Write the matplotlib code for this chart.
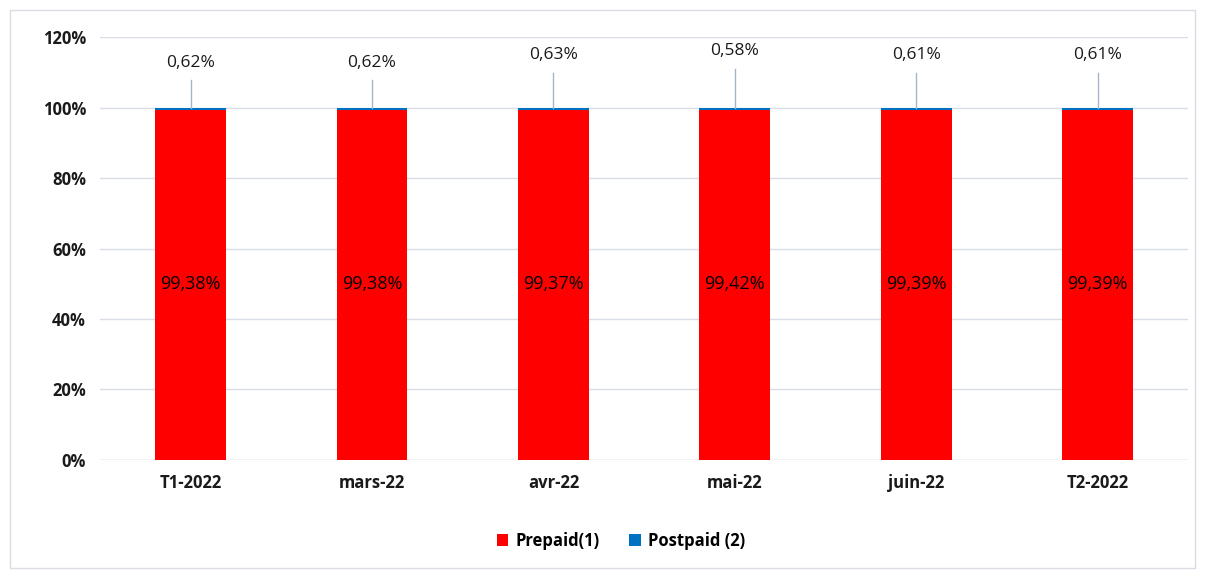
import matplotlib

matplotlib.use("Agg")
import matplotlib.pyplot as plt
from matplotlib.patches import Patch, Rectangle

plt.rcParams["font.family"] = ["Open Sans", "DejaVu Sans"]

CATEGORIES = ["T1-2022", "mars-22", "avr-22", "mai-22", "juin-22", "T2-2022"]
PREPAID = [99.38, 99.38, 99.37, 99.42, 99.39, 99.39]
POSTPAID = [0.62, 0.62, 0.63, 0.58, 0.61, 0.61]
# label heights (in %) of the postpaid callouts, as placed in the original
LABEL_Y = [112.8, 112.8, 114.8, 116.0, 114.8, 114.8]
YTICKS = [0, 20, 40, 60, 80, 100, 120]

RED = "#ff0000"
BLUE = "#0070c0"
GRID = "#d9dde6"
TEXT = "#1a1a1a"


def fmt(v):
    return f"{v:.2f}".replace(".", ",") + "%"


fig = plt.figure(figsize=(12.1, 5.72), dpi=100)
ax = fig.add_axes([0.0826, 0.196, 0.8994, 0.739])

x = list(range(len(CATEGORIES)))
w = 0.39
ax.bar(x, PREPAID, width=w, color=RED, zorder=3)
ax.bar(x, POSTPAID, width=w, bottom=PREPAID, color=BLUE, zorder=3)

for i in x:
    ax.text(i, 50, fmt(PREPAID[i]), ha="center", va="center",
            fontsize=13, color="black", zorder=4)
    ax.text(i, LABEL_Y[i], fmt(POSTPAID[i]), ha="center", va="center",
            fontsize=12.5, color=TEXT, zorder=4)
    ax.plot([i, i], [LABEL_Y[i] - 5.0, 100], color="#a6b4c8",
            linewidth=1, zorder=4)

ax.set_xlim(-0.5, len(CATEGORIES) - 0.5)
ax.set_ylim(0, 120)
ax.set_yticks(YTICKS)
ax.set_yticklabels([f"{t}%" for t in YTICKS])
ax.set_xticks(x)
ax.set_xticklabels(CATEGORIES)
ax.tick_params(length=0, labelsize=12, colors=TEXT, pad=10)
for lbl in ax.get_xticklabels() + ax.get_yticklabels():
    lbl.set_fontweight("bold")
ax.grid(axis="y", color=GRID, linewidth=1, zorder=0)
ax.set_axisbelow(True)
for s in ax.spines.values():
    s.set_visible(False)
ax.axhline(0, color=GRID, linewidth=1, zorder=1)

fig.legend(
    handles=[Patch(facecolor=RED, label="Prepaid(1)"),
             Patch(facecolor=BLUE, label="Postpaid (2)")],
    loc="center", bbox_to_anchor=(0.513, 0.054), ncol=2, frameon=False,
    handlelength=0.7, handleheight=0.7, columnspacing=1.8,
    handletextpad=0.4, prop={"weight": "bold", "size": 12},
)

fig.patches.append(Rectangle((10 / 1210, 4 / 572), 1185 / 1210, 558 / 572,
                             transform=fig.transFigure, fill=False,
                             edgecolor="#d9dde3", linewidth=1))

fig.savefig("out.png", dpi=100, facecolor="white")
